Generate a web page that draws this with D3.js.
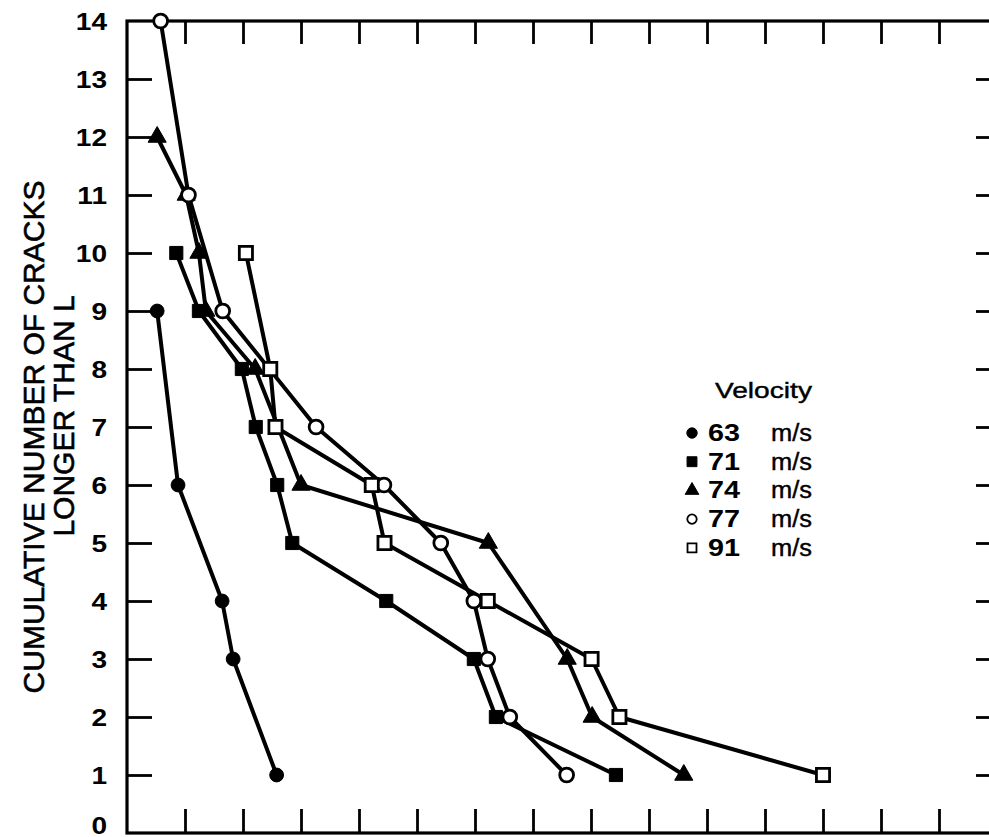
<!DOCTYPE html>
<html>
<head>
<meta charset="utf-8">
<script src="https://cdn.jsdelivr.net/npm/d3@7/dist/d3.min.js"></script>
<style>
  html, body { margin: 0; padding: 0; background: #fff; }
  svg { display: block; }
  text { font-family: "Liberation Sans", Arial, Helvetica, sans-serif; fill: #000; }
</style>
</head>
<body>
<svg id="chart" width="989" height="837"></svg>
<script>
// ---- data (x in axis tick units, y = cumulative number of cracks) ----
const velocities = ["63", "71", "74", "77", "91"];
const symbolsKind = ["circleFilled", "squareFilled", "triangleFilled", "circleOpen", "squareOpen"];

const s63 = [[0.52, 9], [0.88, 6], [1.64, 4], [1.83, 3], [2.58, 1]];
const s71 = [[0.85, 10], [1.24, 9], [1.98, 8], [2.22, 7], [2.59, 6], [2.85, 5], [4.47, 4], [5.98, 3], [6.36, 2], [8.43, 1]];
const s74 = [[0.52, 12], [1.02, 11], [1.24, 10], [1.36, 9], [2.21, 8], [3.0, 6], [6.23, 5], [7.59, 3], [8.02, 2], [9.6, 1]];
const s77 = [[0.58, 14], [1.06, 11], [1.65, 9], [3.26, 7], [4.43, 6], [5.41, 5], [5.98, 4], [6.22, 3], [6.6, 2], [7.58, 1]];
const s91 = [[2.05, 10], [2.47, 8], [2.56, 7], [4.22, 6], [4.44, 5], [6.22, 4], [8.01, 3], [8.49, 2], [12.0, 1]];
const seriesData = [s63, s71, s74, s77, s91];

const yTickValues = [0, 1, 2, 3, 4, 5, 6, 7, 8, 9, 10, 11, 12, 13, 14];
const xTickValues = [1, 2, 3, 4, 5, 6, 7, 8, 9, 10, 11, 12, 13, 14];
const yLabelLines = ["CUMULATIVE NUMBER OF CRACKS", "LONGER THAN L"];
const legendTitle = "Velocity";
const unitLabel = "m/s";

// ---- layout ----
const svg = d3.select("#chart");
const x = d3.scaleLinear().domain([0, 15]).range([127, 997]);
const y = d3.scaleLinear().domain([0, 14]).range([833, 21]);

const g = svg.append("g");

// frame
g.append("rect")
  .attr("x", x(0)).attr("y", y(14))
  .attr("width", x(15) - x(0)).attr("height", y(0) - y(14))
  .attr("fill", "none").attr("stroke", "#000").attr("stroke-width", 3.2);

// left axis (ticks inward, labels outside)
const tickScale = 1.22;
const leftAxis = d3.axisLeft(y).tickValues(yTickValues).tickSize(-25).tickPadding(20).tickFormat(d3.format("d"));
const la = g.append("g").attr("transform", `translate(${x(0)},0)`).call(leftAxis);
la.select(".domain").remove();
la.selectAll(".tick line").attr("stroke", "#000").attr("stroke-width", 2.8)
  .filter(d => d === 0 || d === 14).remove();
la.selectAll(".tick text")
  .attr("font-size", 23).attr("font-weight", "bold")
  .attr("font-family", "'Liberation Sans', Arial, sans-serif")
  .attr("x", -20 / tickScale)
  .attr("y", d => d === 0 ? -7 : 1)
  .attr("transform", `scale(${tickScale},1)`);

// right axis ticks (inward)
const rightAxis = d3.axisRight(y).tickValues(yTickValues.filter(d => d > 0 && d < 14)).tickSize(-21).tickFormat("");
const ra = g.append("g").attr("transform", `translate(${x(15)},0)`).call(rightAxis);
ra.select(".domain").remove();
ra.selectAll(".tick line").attr("stroke", "#000").attr("stroke-width", 2.8);

// top ticks (inward)
const topAxis = d3.axisTop(x).tickValues(xTickValues).tickSize(-23).tickFormat("");
const ta = g.append("g").attr("transform", `translate(0,${y(14)})`).call(topAxis);
ta.select(".domain").remove();
ta.selectAll(".tick line").attr("stroke", "#000").attr("stroke-width", 2.8);

// bottom ticks (inward)
const bottomAxis = d3.axisBottom(x).tickValues(xTickValues).tickSize(-24).tickFormat("");
const ba = g.append("g").attr("transform", `translate(0,${y(0)})`).call(bottomAxis);
ba.select(".domain").remove();
ba.selectAll(".tick line").attr("stroke", "#000").attr("stroke-width", 2.8);

// y label
const yl = g.append("g");
yl.append("text")
  .attr("transform", `translate(44,437) rotate(-90)`)
  .attr("text-anchor", "middle").attr("font-size", 30)
  .attr("stroke", "#000").attr("stroke-width", 0.6)
  .text(yLabelLines[0]);
yl.append("text")
  .attr("transform", `translate(74,416) rotate(-90)`)
  .attr("text-anchor", "middle").attr("font-size", 30)
  .attr("stroke", "#000").attr("stroke-width", 0.6)
  .text(yLabelLines[1]);

// symbol drawing
function symbolFor(kind, size) {
  if (kind.startsWith("circle")) return d3.symbol().type(d3.symbolCircle).size(size)();
  if (kind.startsWith("square")) return d3.symbol().type(d3.symbolSquare).size(size * 1.15)();
  return d3.symbol().type(d3.symbolTriangle).size(size * 0.95)();
}
function styleMarker(sel, kind) {
  const open = kind.endsWith("Open");
  sel.attr("fill", open ? "#fff" : "#000").attr("stroke", "#000").attr("stroke-width", open ? 2.8 : 1);
}

const line = d3.line().x(d => x(d[0])).y(d => y(d[1]));

seriesData.forEach((data, i) => {
  g.append("path").datum(data)
    .attr("d", line).attr("fill", "none")
    .attr("stroke", "#000").attr("stroke-width", 4).attr("stroke-linejoin", "round");
});
seriesData.forEach((data, i) => {
  const kind = symbolsKind[i];
  g.append("g").selectAll("path").data(data).join("path")
    .attr("transform", d => `translate(${x(d[0])},${y(d[1])})`)
    .attr("d", symbolFor(kind, 150))
    .call(styleMarker, kind);
});

// legend
const lg = g.append("g");
lg.append("text").attr("x", 812).attr("y", 398)
  .attr("text-anchor", "end")
  .attr("font-size", 22).attr("textLength", 97).attr("lengthAdjust", "spacingAndGlyphs")
  .attr("stroke", "#000").attr("stroke-width", 0.4)
  .text(legendTitle);
velocities.forEach((v, i) => {
  const ry = 441 + i * 28.7;
  const kind = symbolsKind[i];
  lg.append("path")
    .attr("transform", `translate(692,${ry - 8})`)
    .attr("d", symbolFor(kind, kind.endsWith("Open") ? 70 : 85))
    .call(styleMarker, kind)
    .attr("stroke-width", kind.endsWith("Open") ? 1.8 : 1);
  lg.append("text").attr("x", 708).attr("y", ry)
    .attr("font-size", 23).attr("font-weight", "bold")
    .attr("textLength", 32).attr("lengthAdjust", "spacingAndGlyphs")
    .text(v);
  lg.append("text").attr("x", 771).attr("y", ry)
    .attr("font-size", 23).attr("textLength", 41).attr("lengthAdjust", "spacingAndGlyphs")
    .attr("stroke", "#000").attr("stroke-width", 0.4)
    .text(unitLabel);
});
</script>
</body>
</html>
